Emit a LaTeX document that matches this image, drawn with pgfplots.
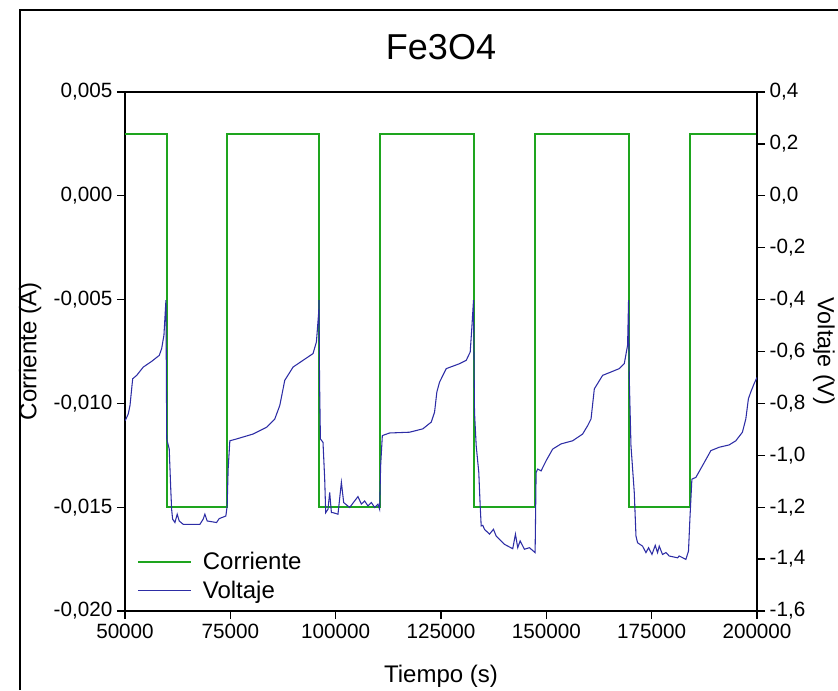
\documentclass[border=0pt]{standalone}
\usepackage{pgfplots}
\pgfplotsset{compat=1.18}
\usepackage{fontspec}
\setmainfont{Liberation Sans}
\definecolor{cgreen}{RGB}{30,165,30}
\definecolor{cblue}{RGB}{45,45,165}
\begin{document}
\begin{tikzpicture}
\useasboundingbox (-93.75pt,-59.25pt) rectangle (534.75pt,458.25pt);
\draw[line width=1.2pt] (-78.75pt,-59.25pt) -- (-78.75pt,450.75pt) -- (534.75pt,450.75pt);
\pgfplotsset{
  every axis/.append style={
    scale only axis, width=474pt, height=389.25pt,
    at={(0pt,0pt)}, anchor=south west,
    xmin=50000, xmax=200000,
    axis line style={line width=1pt},
    every tick/.style={line width=1pt, black},
    major tick length=6pt,
    tick align=outside,
    tick label style={font=\fontsize{15.5}{18}\selectfont},
    label style={font=\fontsize{18}{21}\selectfont},
    /pgf/number format/assume math mode=true,
    scaled x ticks=false, scaled y ticks=false,
  }
}
\begin{axis}[
  ymin=-0.020, ymax=0.005,
  ytick={-0.020,-0.015,-0.010,-0.005,0,0.005},
  xtick={50000,75000,100000,125000,150000,175000,200000},
  xtick pos=bottom, ytick pos=left,
  xticklabel style={/pgf/number format/.cd, fixed, 1000 sep={}},
  yticklabel style={/pgf/number format/.cd, fixed, fixed zerofill, precision=3, use comma},
  xlabel={Tiempo (s)},
  xlabel style={at={(axis description cs:0.5,-0.125)}, anchor=center},
  ylabel={Corriente (A)},
  ylabel style={at={(axis description cs:-0.150,0.5)}, anchor=center, rotate=0},
  title={Fe3O4},
  title style={at={(axis description cs:0.5,1.072)}, anchor=center, font=\fontsize{27}{32}\selectfont},
]
\addplot[cgreen, line width=1.5pt, forget plot] coordinates {
(50000,0.003)(59900,0.003)(59900,-0.015)(74240,-0.015)(74240,0.003)
(96100,0.003)(96100,-0.015)(110550,-0.015)(110550,0.003)
(132900,0.003)(132900,-0.015)(147400,-0.015)(147400,0.003)
(169700,0.003)(169700,-0.015)(184100,-0.015)(184100,0.003)(200000,0.003)
};
\end{axis}
\begin{axis}[
  ymin=-1.6, ymax=0.4,
  ytick={-1.6,-1.4,-1.2,-1.0,-0.8,-0.6,-0.4,-0.2,0,0.2,0.4},
  axis x line=none,
  axis y line*=right,
  ytick pos=right,
  yticklabel style={/pgf/number format/.cd, fixed, fixed zerofill, precision=1, use comma},
  ylabel={Voltaje (V)},
  ylabel style={at={(axis description cs:1.106,0.5)}, anchor=center, rotate=180, font=\fontsize{17.5}{20}\selectfont},
  legend style={draw=none, fill=none, at={(0.012,0.01)}, anchor=south west,
    font=\fontsize{18}{21}\selectfont, row sep=3pt,
    /tikz/every odd column/.append style={column sep=6pt}},
  legend cell align=left,
  legend image code/.code={\draw[#1] (0pt,0pt) -- (40pt,0pt);},
]
\addlegendimage{cgreen, line width=1.5pt}
\addlegendentry{Corriente}
\addplot[cblue, line width=0.8pt] coordinates {
(50000,-0.867)(50237,-0.860)(50782,-0.840)(51185,-0.808)(51825,-0.705)(52773,-0.692)
(54337,-0.660)(56328,-0.638)(58129,-0.615)(58698,-0.589)(59243,-0.537)(59717,-0.402)
(59906,-0.937)(60498,-0.976)(60830,-1.118)(61066,-1.208)(61303,-1.246)(61848,-1.259)
(62393,-1.227)(62867,-1.253)(63815,-1.266)(67775,-1.266)(68557,-1.246)(68960,-1.227)
(69505,-1.253)(71733,-1.259)(72349,-1.244)(73937,-1.234)(74245,-1.195)(74481,-1.053)
(74885,-0.944)(76473,-0.937)(80407,-0.918)(83583,-0.892)(85550,-0.860)(86735,-0.808)
(87517,-0.744)(87920,-0.711)(89887,-0.660)(92257,-0.634)(94627,-0.608)(95433,-0.563)
(95978,-0.447)(96049,-0.402)
(96167,-0.705)(96379,-0.937)(96995,-0.950)(97398,-1.092)(97635,-1.221)(98180,-1.208)
(98583,-1.143)(98986,-1.221)(99365,-1.221)(100550,-1.227)(101356,-1.104)(101901,-1.182)
(103323,-1.201)(105290,-1.159)(106096,-1.188)(106878,-1.176)(107660,-1.195)(108466,-1.182)
(109248,-1.201)(110030,-1.188)(110435,-1.208)(110672,-1.040)(111075,-0.924)(112805,-0.914)
(117545,-0.911)(120697,-0.898)(122688,-0.872)(123470,-0.834)(124015,-0.756)(124655,-0.718)
(126243,-0.666)(129395,-0.647)(130983,-0.634)(131931,-0.602)(132310,-0.511)(132713,-0.402)
(132950,-0.834)(133353,-0.963)(133969,-1.066)(134301,-1.195)(134538,-1.272)(134917,-1.270)
(135320,-1.285)(136505,-1.304)(137453,-1.285)(138093,-1.311)(139278,-1.330)(140060,-1.343)
(142027,-1.360)(142667,-1.304)(143212,-1.356)(143781,-1.330)(144800,-1.362)(145985,-1.356)
(147336,-1.375)(147573,-1.066)(147952,-1.053)(148758,-1.060)(149943,-1.021)(151507,-0.976)
(153498,-0.956)(156247,-0.944)(158617,-0.918)(159802,-0.886)(160608,-0.860)(161390,-0.744)
(163357,-0.692)(167315,-0.666)(168500,-0.647)(169282,-0.576)(169519,-0.402)
(169685,-0.705)(170088,-0.963)(170870,-1.143)(171273,-1.311)(171652,-1.337)(172837,-1.350)
(173643,-1.375)(174259,-1.356)(175065,-1.382)(175847,-1.347)(176392,-1.375)(176795,-1.350)
(177577,-1.382)(178383,-1.375)(179165,-1.388)(181132,-1.395)(181535,-1.388)(183123,-1.401)
(183739,-1.369)(184071,-1.246)(184545,-1.092)(185493,-1.085)(187057,-1.040)(189048,-0.982)
(191015,-0.969)(193385,-0.960)(194973,-0.944)(196537,-0.911)(197343,-0.860)(197959,-0.782)
(198528,-0.756)(199310,-0.724)(200000,-0.700)
};
\addlegendentry{Voltaje}
\end{axis}
\end{tikzpicture}
\end{document}
